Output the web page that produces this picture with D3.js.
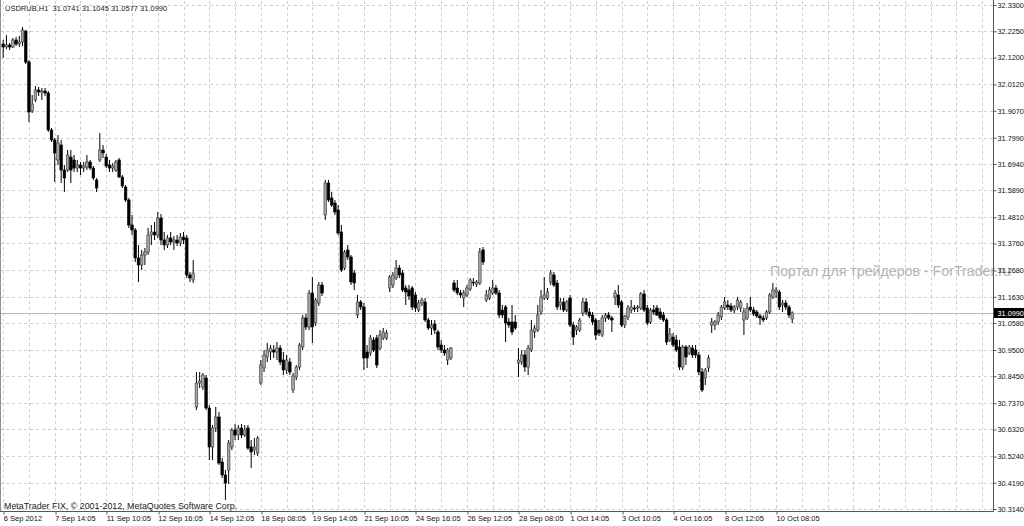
<!DOCTYPE html>
<html><head><meta charset="utf-8">
<script src="https://cdn.jsdelivr.net/npm/d3@7"></script>
<style>body{margin:0;background:#fff;overflow:hidden}svg{display:block;font-family:"Liberation Sans",Arial,sans-serif}</style>
</head><body><svg id="c" width="1024" height="526"></svg>
<script>
const symbol = "USDRUB,H1";
const opens = [32.174,32.162,32.170,32.162,32.190,32.174,32.182,32.226,32.102,31.906,
31.950,31.990,31.982,31.986,31.978,31.830,31.790,31.710,31.770,31.670,
31.670,31.722,31.710,31.678,31.690,31.678,31.682,31.702,31.678,31.630,
31.710,31.750,31.722,31.690,31.678,31.670,31.710,31.642,31.602,31.550,
31.450,31.430,31.318,31.290,31.330,31.342,31.410,31.422,31.410,31.478,
31.390,31.370,31.398,31.382,31.390,31.378,31.402,31.398,31.250,31.230,
30.722,30.818,30.802,30.838,30.718,30.562,30.638,30.682,30.502,30.450,
30.470,30.562,30.630,30.610,30.638,30.610,30.638,30.562,30.550,30.538,
30.818,30.878,30.922,30.942,30.950,30.942,30.958,30.910,30.870,30.902,
30.790,30.842,30.882,30.962,31.078,31.042,31.178,31.058,31.138,31.210,
31.490,31.618,31.558,31.538,31.510,31.422,31.278,31.350,31.322,31.258,
31.090,31.142,31.122,30.942,30.938,30.990,30.998,30.958,30.998,30.998,
31.198,31.210,31.238,31.278,31.258,31.198,31.190,31.198,31.170,31.110,
31.138,31.142,31.070,31.038,31.054,31.022,30.970,30.950,30.910,30.918,
31.218,31.198,31.178,31.158,31.170,31.194,31.222,31.214,31.218,31.350,
31.150,31.158,31.178,31.198,31.178,31.110,31.122,31.062,31.062,31.062,
30.898,30.902,30.930,30.882,30.950,31.022,31.030,31.102,31.158,31.158,
31.222,31.250,31.218,31.130,31.142,31.110,31.158,31.050,31.030,31.030,
31.098,31.142,31.102,31.090,31.070,31.030,31.010,31.078,31.090,31.078,
31.162,31.170,31.142,31.050,31.082,31.110,31.118,31.118,31.118,31.174,
31.118,31.062,31.110,31.118,31.102,31.090,31.070,30.990,31.002,30.990,
30.962,30.882,30.962,30.938,30.958,30.950,30.930,30.862,30.838,30.878,
31.050,31.050,31.062,31.082,31.118,31.130,31.126,31.110,31.122,31.118,
31.070,31.078,31.122,31.110,31.102,31.086,31.078,31.078,31.102,31.162,
31.182,31.182,31.130,31.138,31.122,31.0741];
const highs = [32.190,32.210,32.178,32.198,32.202,32.206,32.242,32.230,32.110,31.970,
32.006,32.002,31.998,31.998,31.986,31.838,31.798,31.810,31.790,31.690,
31.750,31.750,31.730,31.710,31.702,31.702,31.730,31.710,31.686,31.638,
31.818,31.770,31.734,31.710,31.698,31.710,31.718,31.650,31.610,31.558,
31.490,31.438,31.370,31.350,31.358,31.438,31.450,31.462,31.502,31.494,
31.422,31.410,31.422,31.406,31.410,31.418,31.422,31.410,31.262,31.310,
30.862,30.862,30.858,30.850,30.730,30.650,30.722,30.702,30.518,30.470,
30.590,30.638,30.654,30.650,30.654,30.650,30.650,30.590,30.598,30.606,
30.910,30.950,30.978,30.970,30.970,30.982,30.970,30.942,30.930,30.918,
30.858,30.890,30.978,31.090,31.094,31.190,31.242,31.158,31.222,31.222,
31.630,31.630,31.582,31.550,31.530,31.450,31.350,31.370,31.330,31.270,
31.170,31.150,31.138,30.970,31.010,31.002,31.010,31.030,31.038,31.030,
31.250,31.262,31.310,31.290,31.270,31.210,31.210,31.206,31.182,31.150,
31.158,31.158,31.078,31.070,31.070,31.030,30.990,30.970,30.958,30.962,
31.230,31.230,31.190,31.190,31.210,31.238,31.238,31.230,31.358,31.362,
31.190,31.202,31.230,31.210,31.190,31.130,31.130,31.078,31.130,31.090,
30.958,30.950,30.950,30.970,31.070,31.050,31.130,31.190,31.242,31.198,
31.270,31.262,31.230,31.158,31.158,31.150,31.170,31.062,31.050,31.078,
31.158,31.158,31.118,31.102,31.078,31.070,31.090,31.098,31.102,31.086,
31.190,31.210,31.150,31.090,31.130,31.150,31.130,31.130,31.182,31.190,
31.130,31.118,31.130,31.130,31.118,31.102,31.078,31.038,31.018,31.010,
30.990,30.970,30.970,30.970,30.970,30.970,30.942,30.878,30.878,30.930,
31.078,31.070,31.102,31.130,31.162,31.150,31.138,31.130,31.162,31.150,
31.118,31.138,31.162,31.122,31.110,31.094,31.090,31.110,31.178,31.218,
31.202,31.190,31.150,31.150,31.130,31.1045];
const lows = [32.118,32.154,32.150,32.158,32.166,32.162,32.166,32.094,31.862,31.898,
31.942,31.966,31.950,31.966,31.822,31.782,31.622,31.690,31.618,31.582,
31.662,31.618,31.662,31.662,31.650,31.662,31.670,31.670,31.630,31.582,
31.702,31.718,31.678,31.662,31.662,31.662,31.638,31.598,31.542,31.438,
31.410,31.302,31.222,31.270,31.290,31.330,31.370,31.390,31.398,31.370,
31.350,31.358,31.370,31.350,31.366,31.366,31.374,31.238,31.222,31.218,
30.710,30.798,30.790,30.710,30.510,30.510,30.622,30.490,30.438,30.350,
30.414,30.550,30.590,30.590,30.598,30.602,30.550,30.478,30.530,30.526,
30.810,30.862,30.902,30.910,30.918,30.910,30.890,30.850,30.854,30.850,
30.778,30.830,30.870,30.950,31.030,31.030,30.978,31.046,31.126,31.166,
31.470,31.542,31.522,31.490,31.410,31.262,31.270,31.310,31.210,31.190,
31.078,31.110,30.870,30.878,30.926,30.942,30.878,30.950,30.990,30.990,
31.182,31.198,31.230,31.238,31.182,31.130,31.150,31.110,31.102,31.102,
31.126,31.062,31.030,31.010,31.014,30.950,30.938,30.926,30.890,30.910,
31.182,31.170,31.158,31.122,31.162,31.186,31.206,31.202,31.210,31.290,
31.142,31.150,31.170,31.170,31.078,31.078,30.982,31.038,31.010,31.030,
30.842,30.890,30.862,30.850,30.942,30.998,31.022,31.090,31.150,31.150,
31.210,31.202,31.110,31.110,31.102,31.102,31.042,30.970,31.010,31.022,
31.086,31.090,31.078,31.050,30.990,31.006,31.002,31.062,31.070,31.022,
31.130,31.118,31.042,31.038,31.070,31.098,31.102,31.102,31.110,31.102,
31.050,31.054,31.090,31.086,31.070,31.062,30.970,30.982,30.962,30.942,
30.870,30.870,30.890,30.930,30.918,30.918,30.850,30.782,30.810,30.862,
31.018,31.030,31.050,31.070,31.110,31.110,31.102,31.098,31.110,31.102,
31.010,31.070,31.102,31.086,31.078,31.050,31.062,31.070,31.094,31.154,
31.158,31.110,31.102,31.110,31.078,31.0577];
const closes = [32.162,32.170,32.162,32.190,32.174,32.182,32.230,32.102,31.902,31.934,
31.990,31.982,31.986,31.978,31.830,31.790,31.738,31.778,31.670,31.638,
31.730,31.670,31.678,31.690,31.678,31.686,31.702,31.678,31.638,31.598,
31.750,31.738,31.686,31.678,31.686,31.702,31.642,31.606,31.550,31.450,
31.430,31.318,31.290,31.330,31.342,31.410,31.422,31.410,31.478,31.390,
31.370,31.398,31.382,31.390,31.378,31.402,31.390,31.250,31.238,31.258,
30.818,30.826,30.850,30.718,30.562,30.638,30.682,30.498,30.450,30.418,
30.578,30.630,30.610,30.638,30.610,30.630,30.558,30.542,30.562,30.598,
30.890,30.930,30.950,30.958,30.942,30.958,30.902,30.870,30.910,30.862,
30.846,30.882,30.970,31.078,31.042,31.178,31.042,31.150,31.210,31.178,
31.618,31.550,31.530,31.502,31.418,31.270,31.342,31.322,31.222,31.218,
31.142,31.122,30.918,30.918,30.998,30.950,30.890,31.010,31.022,31.018,
31.242,31.250,31.278,31.250,31.190,31.182,31.166,31.122,31.118,31.138,
31.150,31.070,31.038,31.050,31.030,30.962,30.950,30.938,30.950,30.958,
31.190,31.178,31.170,31.178,31.198,31.230,31.218,31.222,31.342,31.302,
31.170,31.190,31.198,31.178,31.090,31.090,31.058,31.050,31.022,31.038,
30.910,30.930,30.882,30.958,31.030,31.038,31.090,31.162,31.170,31.182,
31.258,31.210,31.122,31.142,31.110,31.142,31.050,31.002,31.042,31.070,
31.142,31.102,31.086,31.062,31.010,31.018,31.078,31.090,31.078,31.070,
31.178,31.130,31.050,31.086,31.118,31.122,31.114,31.122,31.174,31.110,
31.058,31.110,31.102,31.090,31.078,31.070,30.982,31.014,30.970,30.950,
30.882,30.962,30.922,30.962,30.930,30.930,30.862,30.790,30.870,30.918,
31.062,31.062,31.090,31.122,31.142,31.122,31.110,31.122,31.150,31.142,
31.102,31.118,31.110,31.094,31.086,31.078,31.070,31.102,31.170,31.190,
31.190,31.122,31.138,31.122,31.090,31.0990];
const timeLabels = ["6 Sep 2012","7 Sep 14:05","11 Sep 10:05","12 Sep 16:05","14 Sep 12:05","18 Sep 08:05","19 Sep 14:05","21 Sep 10:05","24 Sep 16:05","26 Sep 12:05","28 Sep 08:05","1 Oct 14:05","3 Oct 10:05","4 Oct 16:05","8 Oct 12:05","10 Oct 08:05"];
const priceLabels = ["32.3300","32.2250","32.1200","32.0120","31.9070","31.7990","31.6940","31.5890","31.4810","31.3760","31.2680","31.1630","31.0580","30.9500","30.8450","30.7370","30.6320","30.5240","30.4190","30.3140"];
const bid = 31.0990;
const watermark = "Портал для трейдеров - ForTrader.ru";
const copyright = "MetaTrader FIX, \u00a9 2001-2012, MetaQuotes Software Corp.";

const bars = opens.map((o,i)=>({i,o,h:highs[i],l:lows[i],c:closes[i]}));
const n = bars.length;
const plotR = 993, plotB = 511.5;
const step = 3.2205;
const x = d3.scaleLinear().domain([0,1]).range([3.2, 3.2+step]);
const y = d3.scaleLinear().domain([30.314, 32.33]).range([509, 5]);
const svg = d3.select("#c");

// grid
const vIdx = d3.range(0, Math.floor(x.invert(plotR-2))+1, 8);
svg.append("g").selectAll("line").data(vIdx).join("line")
  .attr("x1",d=>Math.round(x(d))+0.5).attr("x2",d=>Math.round(x(d))+0.5)
  .attr("y1",1).attr("y2",plotB)
  .attr("stroke","#c8c8c8").attr("stroke-dasharray","3,3").attr("stroke-width",0.9);
svg.append("g").selectAll("line").data(priceLabels.map(Number)).join("line")
  .attr("x1",0).attr("x2",plotR).attr("y1",d=>Math.round(y(d))+0.5).attr("y2",d=>Math.round(y(d))+0.5)
  .attr("stroke","#c8c8c8").attr("stroke-dasharray","3,3").attr("stroke-width",0.9);

// watermark
svg.append("text").attr("x",770).attr("y",276).attr("font-size","14.2px")
  .attr("fill","#bcb0b0").text(watermark);

// bid line
svg.append("line").attr("x1",0).attr("x2",plotR).attr("y1",Math.round(y(bid))+0.5).attr("y2",Math.round(y(bid))+0.5)
  .attr("stroke","#b8b8b8").attr("stroke-width",1);

// candles
const g = svg.append("g");
g.selectAll("line.w").data(bars).join("line").attr("class","w")
  .attr("x1",d=>x(d.i)).attr("x2",d=>x(d.i)).attr("y1",d=>y(d.h)).attr("y2",d=>y(d.l))
  .attr("stroke","#000").attr("stroke-width",1);
const bw = 2.6;
g.selectAll("rect").data(bars).join("rect")
  .attr("x",d=>x(d.i)-bw/2).attr("width",bw)
  .attr("y",d=>y(Math.max(d.o,d.c)))
  .attr("height",d=>Math.max(0.8, Math.abs(y(d.o)-y(d.c))))
  .attr("fill",d=>d.c>=d.o?"#a4a4a4":"#000")
  .attr("stroke",d=>d.c>=d.o?"#3a3a3a":"#000").attr("stroke-width",0.6);

// frame
svg.append("line").attr("x1",0.5).attr("x2",0.5).attr("y1",0).attr("y2",plotB).attr("stroke","#909090");

// y axis
const yAxis = d3.axisRight(y).tickValues(priceLabels.map(Number))
  .tickFormat((d,i)=>priceLabels[i]).tickSize(3).tickPadding(1);
const ya = svg.append("g").attr("transform",`translate(${plotR+0.5},0)`).call(yAxis);
ya.select(".domain").attr("d",`M0,0V${plotB}`).attr("stroke","#555");
ya.selectAll(".tick line").attr("stroke","#555");
ya.selectAll(".tick text").attr("font-size","7.3px").attr("font-family","Liberation Sans, Arial").attr("fill","#111");

// x axis
const xTicks = timeLabels.map((t,k)=>k*16);
const xAxis = d3.axisBottom(x).tickValues(xTicks).tickFormat((d,k)=>timeLabels[k]).tickSize(3).tickPadding(2);
const xa = svg.append("g").attr("transform",`translate(0,${plotB})`).call(xAxis);
xa.select(".domain").attr("d",`M0,0H${plotR+0.5}`).attr("stroke","#555");
xa.selectAll(".tick line").attr("stroke","#555").attr("transform",(d)=>`translate(${Math.round(x(d))+0.5-x(d)},0)`);
xa.selectAll(".tick text").attr("text-anchor","start").attr("dx","0").attr("dy","0.55em")
  .attr("font-size","7.5px").attr("font-family","Liberation Sans, Arial").attr("fill","#111");

// bid label
const by = Math.round(y(bid));
svg.append("rect").attr("x",plotR+1).attr("y",by-5).attr("width",40).attr("height",10).attr("fill","#000");
svg.append("text").attr("x",plotR+4.5).attr("y",by+3).attr("font-size","7.3px").attr("fill","#fff").text(bid.toFixed(4));

// title & copyright
svg.append("text").attr("x",5).attr("y",11).attr("font-size","7.5px").attr("fill","#222")
  .style("white-space","pre")
  .text(`${symbol}  ${opens[n-1].toFixed(4)} ${highs[n-1].toFixed(4)} ${lows[n-1].toFixed(4)} ${closes[n-1].toFixed(4)}`);
svg.append("text").attr("x",4).attr("y",509).attr("font-size","8.9px").attr("fill","#222").text(copyright);
</script></body></html>
